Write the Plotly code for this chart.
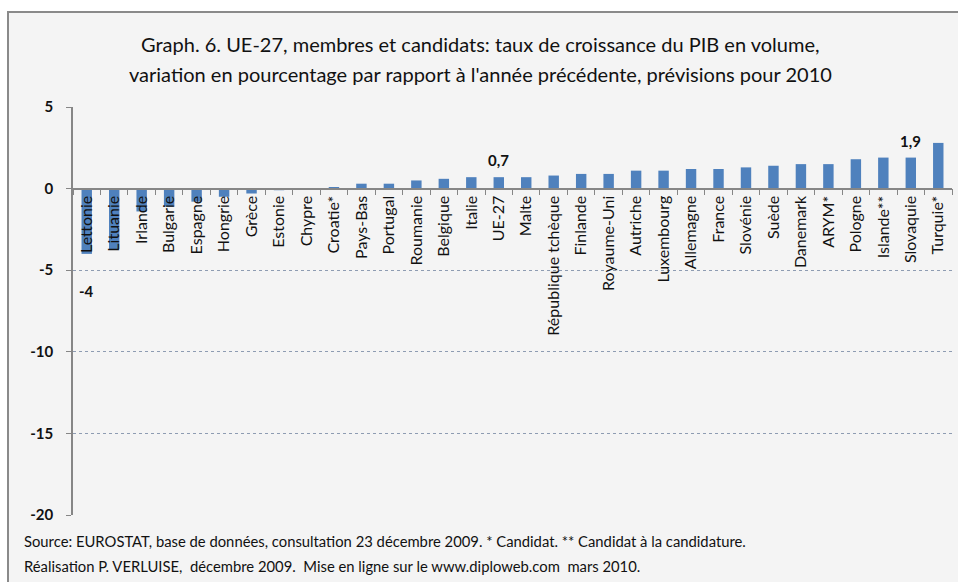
import plotly.graph_objects as go

categories = ["Lettonie", "Lituanie", "Irlande", "Bulgarie", "Espagne", "Hongrie", "Grèce",
              "Estonie", "Chypre", "Croatie*", "Pays-Bas", "Portugal", "Roumanie", "Belgique",
              "Italie", "UE-27", "Malte", "République tchèque", "Finlande", "Royaume-Uni",
              "Autriche", "Luxembourg", "Allemagne", "France", "Slovénie", "Suède", "Danemark",
              "ARYM*", "Pologne", "Islande**", "Slovaquie", "Turquie*"]
growth_2010 = [-4.0, -3.7, -1.4, -1.1, -0.8, -0.5, -0.3, -0.1, 0.0, 0.1, 0.3, 0.3, 0.5, 0.6,
               0.7, 0.7, 0.7, 0.8, 0.9, 0.9, 1.1, 1.1, 1.2, 1.2, 1.3, 1.4, 1.5, 1.5, 1.8, 1.9,
               1.9, 2.8]
labelled = {"Lettonie": "-4", "UE-27": "0,7", "Slovaquie": "1,9"}
y_ticks = [5, 0, -5, -10, -15, -20]
y_range = [-20, 5]

title_lines = ["Graph. 6. UE-27, membres et candidats: taux de croissance du PIB en volume,",
               "variation en pourcentage par rapport à l'année précédente, prévisions pour 2010"]
source_lines = ["Source: EUROSTAT, base de données, consultation 23 décembre 2009. * Candidat. ** Candidat à la candidature.",
                "Réalisation P. VERLUISE,  décembre 2009.  Mise en ligne sur le www.diploweb.com  mars 2010."]

FONT = "Lato"
W, H = 958, 582
ML, MR, MT, MB = 73, 6, 107, 67
PW = W - ML - MR

fig = go.Figure()
fig.add_trace(go.Bar(x=categories, y=growth_2010, marker=dict(color="#4f81bd", line=dict(width=0)),
                     hoverinfo="x+y"))

zero_pos = (0 - y_range[0]) / (y_range[1] - y_range[0])

fig.update_layout(
    width=W, height=H,
    margin=dict(l=ML, r=MR, t=MT, b=MB, pad=0),
    paper_bgcolor="white",
    plot_bgcolor="rgba(0,0,0,0)",
    bargap=0.62,
    showlegend=False,
    font=dict(family=FONT, color="#111111"),
    xaxis=dict(type="category", anchor="free", position=zero_pos,
               showline=True, linecolor="#868686", linewidth=1.5,
               ticks="outside", tickson="boundaries", ticklen=6, tickcolor="#868686", tickwidth=1,
               tickangle=-90, tickfont=dict(size=16, family=FONT, color="#111111"),
               showgrid=False, zeroline=False, range=[-0.5, len(categories) - 0.5]),
    yaxis=dict(range=y_range, tickvals=y_ticks, ticktext=[str(v) for v in y_ticks],
               showline=True, linecolor="#868686", linewidth=1.5,
               ticks="outside", ticklen=5, tickcolor="#868686",
               tickfont=dict(size=15, family=FONT, color="#111111", weight="bold"),
               ticklabelstandoff=10,
               showgrid=True, gridcolor="#8e9cb2", gridwidth=1, griddash="dot",
               zeroline=False),
)

# outer frame
fig.add_shape(type="rect", xref="paper", yref="paper",
              x0=(8 - ML) / PW, x1=(W + 20 - ML) / PW,
              y0=-(H + 20 - (H - MB)) / (H - MT - MB), y1=1 + (MT - 12) / (H - MT - MB),
              fillcolor="#f4f4f4", line=dict(color="#8a8a8a", width=2), layer="below")

for i, line in enumerate(title_lines):
    fig.add_annotation(text=line, xref="paper", yref="paper", x=0.5, y=1, xanchor="center",
                       yanchor="middle", xshift=-32, yshift=[63, 33][i], showarrow=False,
                       font=dict(size=20, family=FONT, color="#111111"))

for i, line in enumerate(source_lines):
    fig.add_annotation(text=line, xref="paper", yref="paper", x=0, y=0, xanchor="left",
                       yanchor="middle", xshift=-51, yshift=[-26, -51][i], showarrow=False,
                       font=dict(size=14.8, family=FONT, color="#111111"))

for cat, txt in labelled.items():
    v = growth_2010[categories.index(cat)]
    fig.add_annotation(text=txt, x=cat, y=v, xref="x", yref="y", showarrow=False,
                       yanchor="middle", yshift=17 if v > 0 else -37,
                       font=dict(size=15, family=FONT, color="#111111", weight="bold"))

fig.write_html("out.html", config={"displayModeBar": False},
               post_script="document.body.style.margin='0';")
